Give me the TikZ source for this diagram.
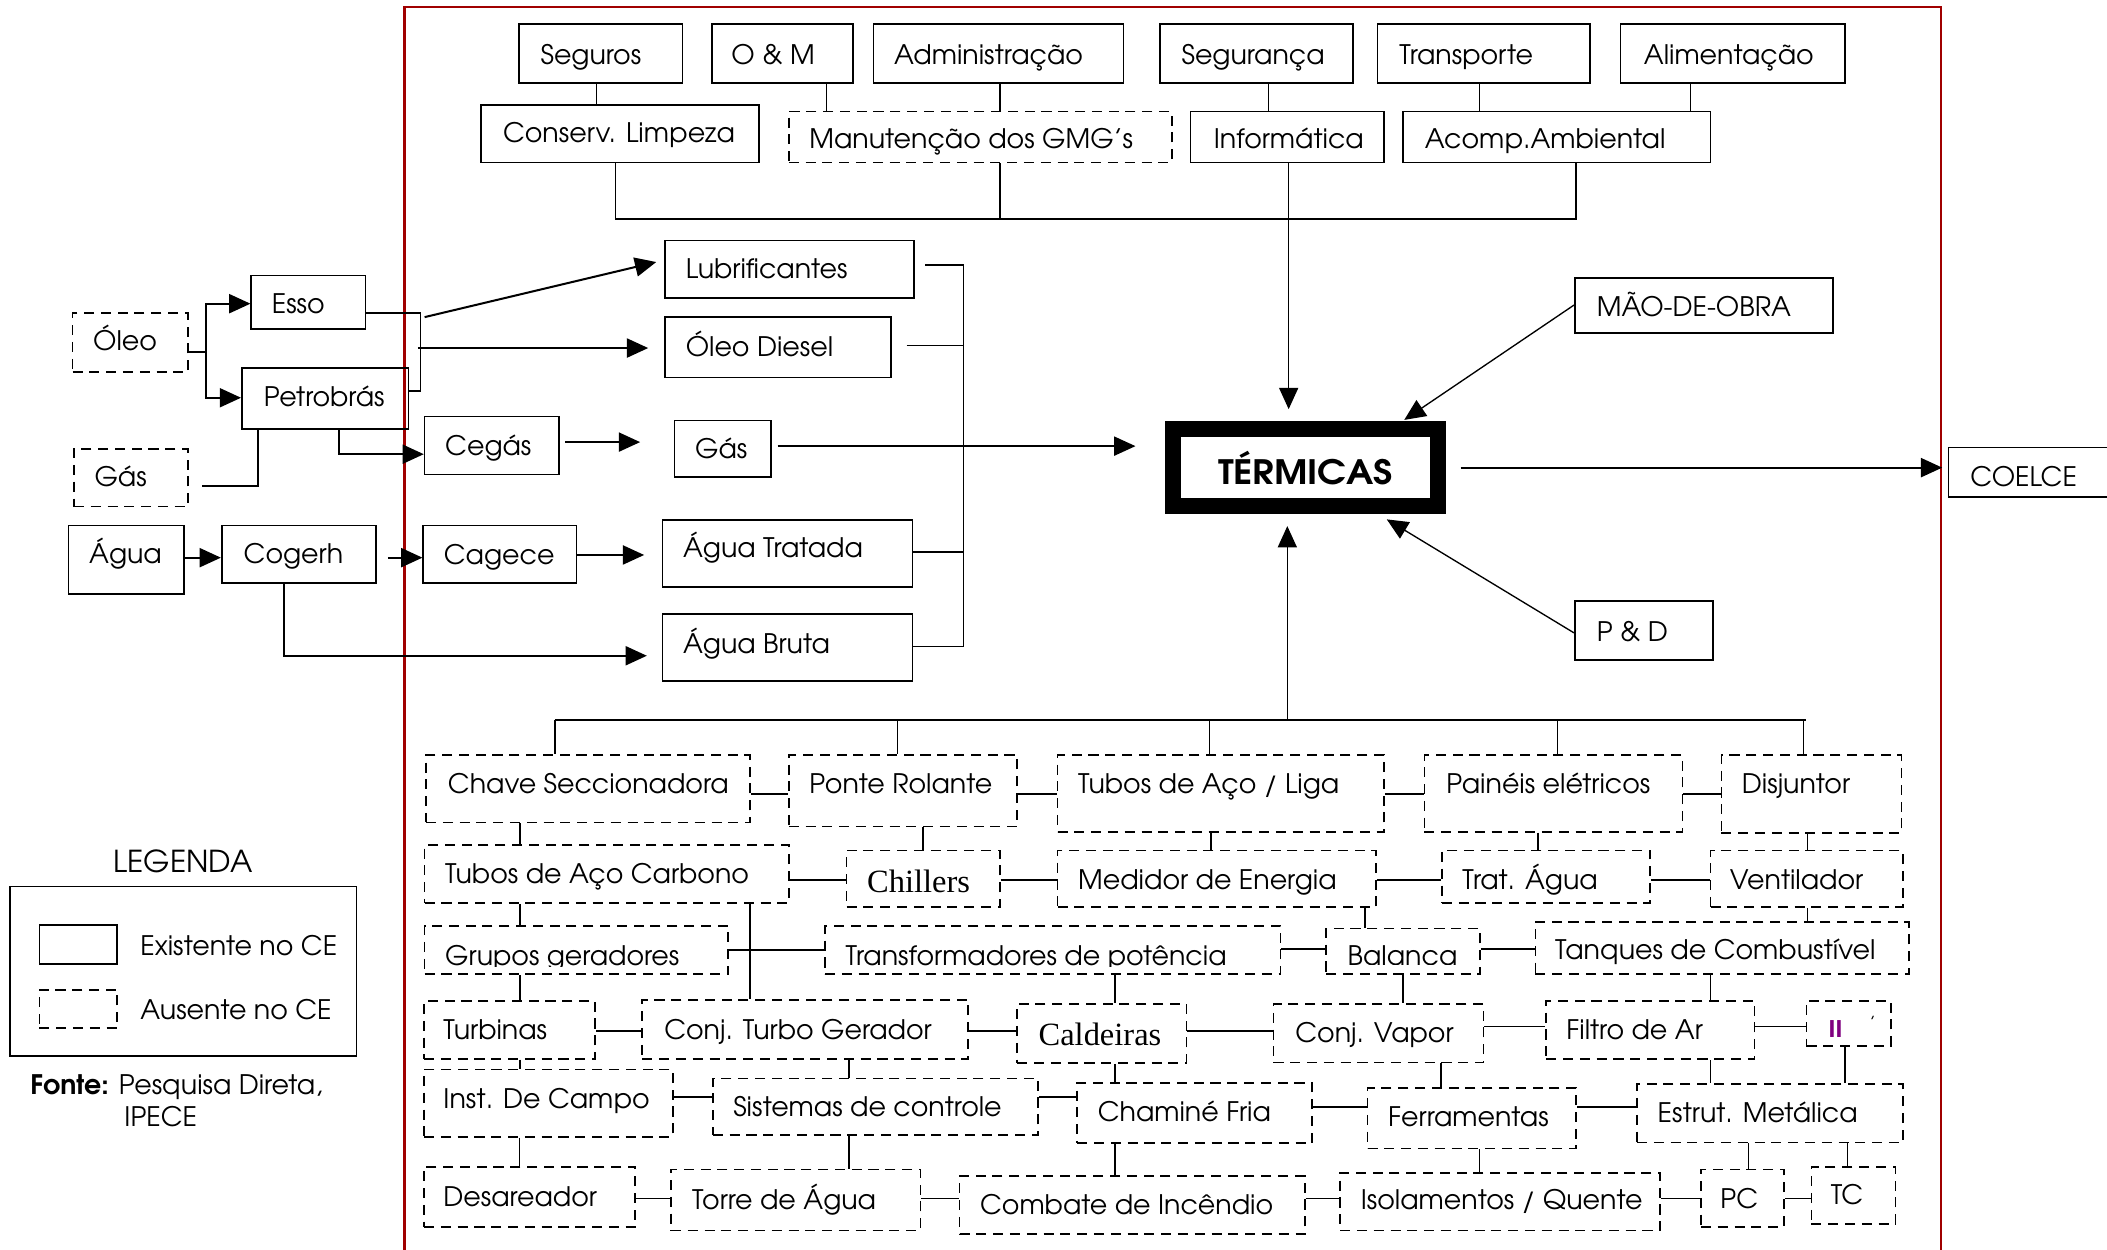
\documentclass[tikz,border=0pt]{standalone}
\usepackage{fontspec}
\setmainfont{TeX Gyre Adventor}
\newfontfamily\serifont{Liberation Serif}
\newfontfamily\heavyfont{Liberation Sans}
\usetikzlibrary{arrows.meta,fit,calc}
\definecolor{framered}{RGB}{160,0,0}
\definecolor{purp}{RGB}{128,0,128}
\newcommand\bx[4]{\node[#1, fit={(#3) (#4)}] (#2) {};}
\begin{document}
\begin{tikzpicture}[x=0.6pt,y=-0.6pt, font=\fontsize{12}{14}\selectfont,
  box/.style={draw, rectangle, line width=0.75pt, inner sep=0pt},
  dbox/.style={box, dash pattern=on 4.5pt off 3pt},
  lbl/.style={anchor=base west, inner sep=0pt, yshift=-4.3pt},
  slbl/.style={anchor=base west, inner sep=0pt, yshift=-4.8pt, font=\serifont\fontsize{14.5}{16}\selectfont},
  ln/.style={line width=0.75pt},
  tn/.style={line width=0.6pt},
  tk/.style={line width=0.9pt},
  arr/.style={-{Triangle[length=9.5pt,width=8.5pt]}},
]
\useasboundingbox (0,0) rectangle (1568,930);
% frame
\draw[framered, line width=1pt] (301,945) -- (301,5) -- (1444.6,5) -- (1444.6,945);

% ---------- top ----------
\bx{box}{seg}{386,18}{508,62}   \node[lbl] (tseg) at (402,41) {Seguros};
\bx{box}{om}{530,18}{635,62}    \node[lbl] (tom) at (544,41) {O \& M};
\bx{box}{adm}{650,18}{836,62}   \node[lbl] (tadm) at (665,41) {Administração};
\bx{box}{sgc}{863,18}{1007,62}  \node[lbl] (tsgc) at (879,41) {Segurança};
\bx{box}{trp}{1025,18}{1183,62} \node[lbl] (ttrp) at (1041,41) {Transporte};
\bx{box}{ali}{1206,18}{1373,62} \node[lbl] (tali) at (1223,41) {Alimentação};
\bx{box}{cons}{358,78}{565,121} \node[lbl] (tcons) at (374,99) {Conserv. Limpeza};
\bx{dbox}{man}{587,83}{872,121} \node[lbl] (tman) at (602,103) {Manutenção dos GMG’s};
\bx{box}{inf}{886,83}{1030,121} \node[lbl] (tinf) at (903,103) {Informática};
\bx{box}{acp}{1044,83}{1273,121} \node[lbl] (tacp) at (1060,103) {Acomp.Ambiental};

\draw[ln] (444,0 |- seg.south) -- (444,0 |- cons.north);
\draw[ln] (615,0 |- om.south) -- (615,0 |- man.north);
\draw[ln] (744,0 |- adm.south) -- (744,0 |- man.north);
\draw[ln] (944,0 |- sgc.south) -- (944,0 |- inf.north);
\draw[ln] (1101,0 |- trp.south) -- (1101,0 |- acp.north);
\draw[ln] (1258,0 |- ali.south) -- (1258,0 |- acp.north);
\draw[ln] (458,0 |- cons.south) -- (458,163) -- (1173,163) -- (1173,0 |- acp.south);
\draw[ln] (744,0 |- man.south) -- (744,163);

% ---------- centre ----------
\node[draw, line width=7.2pt, minimum width=118.2pt, minimum height=34.2pt, inner sep=0pt,
      font=\fontsize{15}{18}\selectfont\bfseries] (term) at (971.5,348) {\scalebox{1.1}[1]{TÉRMICAS}};
\bx{box}{mao}{1172,207}{1364,248} \node[lbl] (tmao) at (1188,228) {MÃO-DE-OBRA};
\bx{box}{pd}{1172,447}{1275,491}  \node[lbl] (tpd) at (1188,470) {P \& D};
\bx{box}{coelce}{1450,333}{1620,370} \node[lbl] (tcoelce) at (1466,355) {COELCE};

\draw[tn,arr] (959,0 |- inf.south) -- ($(959,0 |- term.north)+(0,-9)$);
\draw[tn,arr] (mao.west |- 0,227) -- ($(term.north east)+(-31,-1)$);
\draw[tn,arr] (pd.west |- 0,471) -- ($(term.south east)+(-44,4)$);
\draw[tn,arr] (958,536) -- ($(958,0 |- term.south)+(0,9)$);
\draw[tk,arr] ($(term.east |- 0,348)+(11,0)$) -- ($(coelce.west |- 0,348)+(-4,0)$);

% ---------- left inputs ----------
\bx{dbox}{oleo}{54,233}{140,277}  \node[lbl] (toleo) at (69,254) {Óleo};
\bx{box}{esso}{187,205}{272,245}  \node[lbl] (tesso) at (202,226) {Esso};
\bx{box}{petro}{180,274}{304,319} \node[lbl] (tpetro) at (196,295) {Petrobrás};
\bx{dbox}{gasl}{55,334}{140,377}  \node[lbl] (tgasl) at (70,355) {Gás};
\bx{box}{agua}{51,391}{137,442}   \node[lbl] (tagua) at (66,412) {Água};
\bx{box}{cog}{165,391}{280,434}   \node[lbl] (tcog) at (181,412) {Cogerh};
\bx{box}{cegas}{316,310}{416,353} \node[lbl] (tcegas) at (331,332) {Cegás};
\bx{box}{cagece}{315,391}{429,434} \node[lbl] (tcagece) at (330,413) {Cagece};
\bx{box}{lub}{495,179}{680,222}   \node[lbl] (tlub) at (510,200) {Lubrificantes};
\bx{box}{diesel}{495,236}{663,281} \node[lbl] (tdiesel) at (510,258) {Óleo Diesel};
\bx{box}{gasr}{502,313}{574,355}  \node[lbl] (tgasr) at (517,334) {Gás};
\bx{box}{agt}{493,387}{679,437}   \node[lbl] (tagt) at (508,408) {Água Tratada};
\bx{box}{agb}{493,457}{679,507}   \node[lbl] (tagb) at (508,479) {Água Bruta};

\draw[tk,arr] (oleo.east |- 0,262) -- (153,262) -- (153,226) -- (esso.west |- 0,226);
\draw[tk,arr] (153,262) -- (153,296) -- (petro.west |- 0,296);
\draw[ln] (esso.east |- 0,233) -- (313,233) -- (313,291) -- (petro.east |- 0,291);
\coordinate (brk) at (316,236);
\coordinate (brd) at (311,259);
\draw[tk,arr] (brk) -- ($(lub.west |- 0,195)+(-6,0)$);
\draw[tk,arr] (brd) -- ($(diesel.west |- 0,259)+(-12,0)$);
\draw[tk] ($(gasl.east |- 0,362)+(10,0)$) -- (192,362) -- (192,0 |- petro.south);
\draw[tk,arr] (252,0 |- petro.south) -- (252,338) -- (cegas.west |- 0,338);
\draw[tk,arr] ($(cegas.east |- 0,329)+(4,0)$) -- ($(gasr.west |- 0,329)+(-25,0)$);
\draw[tk,arr] (agua.east |- 0,415) -- (cog.west |- 0,415);
\draw[tk,arr] ($(cog.east |- 0,415)+(8,0)$) -- (cagece.west |- 0,415);
\draw[tk,arr] (cagece.east |- 0,413) -- ($(agt.west |- 0,413)+(-13,0)$);
\draw[tk,arr] (211,0 |- cog.south) -- (211,488) -- ($(agb.west |- 0,488)+(-11,0)$);
% collector bus
\draw[ln] ($(lub.east |- 0,197)+(8,0)$) -- (717,197) -- (717,481) -- (agb.east |- 0,481);
\draw[ln] ($(diesel.east |- 0,257)+(11,0)$) -- (717,257);
\draw[ln] (agt.east |- 0,411) -- (717,411);
\draw[ln,arr] ($(gasr.east |- 0,332)+(4,0)$) -- ($(term.west |- 0,332)+(-22,0)$);

% ---------- bottom grid ----------
\bx{dbox}{chave}{317,562}{558,612}   \node[lbl] (tchave) at (333,583) {Chave Seccionadora};
\bx{dbox}{ponte}{587,562}{757,615}   \node[lbl] (tponte) at (602,583) {Ponte Rolante};
\bx{dbox}{tliga}{787,562}{1030,619}  \node[lbl] (ttliga) at (802,583) {Tubos de Aço / Liga};
\bx{dbox}{paineis}{1060,562}{1252,619} \node[lbl] (tpaineis) at (1076,583) {Painéis elétricos};
\bx{dbox}{disj}{1281,562}{1415,620}  \node[lbl] (tdisj) at (1296,583) {Disjuntor};
\bx{dbox}{tac}{316,629}{587,672}     \node[lbl] (ttac) at (331,650) {Tubos de Aço Carbono};
\bx{dbox}{chil}{630,633}{744,675}    \node[slbl] (tchil) at (645,656) {Chillers};
\bx{dbox}{med}{787,633}{1024,675}    \node[lbl] (tmed) at (802,655) {Medidor de Energia};
\bx{dbox}{trat}{1073,633}{1228,672}  \node[lbl] (ttrat) at (1088,655) {Trat. Água};
\bx{dbox}{vent}{1273,633}{1416,675}  \node[lbl] (tvent) at (1287,655) {Ventilador};
\bx{dbox}{grup}{316,689}{542,725}
\begin{scope}\clip (316,689) rectangle (542,719);
\node[lbl] (tgrup) at (331,711) {Grupos geradores};\end{scope}
\bx{dbox}{transf}{614,689}{953,725}
\begin{scope}\clip (614,689) rectangle (953,719);
\node[lbl] (ttransf) at (629,711) {Transformadores de potência};\end{scope}
\bx{dbox}{bal}{987,691}{1101.5,725}
\begin{scope}\clip (987,691) rectangle (1101.5,718);
\node[lbl] (tbal) at (1002.6,711) {Balança};\end{scope}
\bx{dbox}{tanq}{1142.6,686}{1420.4,725} \node[lbl] (ttanq) at (1157,707) {Tanques de Combustível};
\bx{dbox}{turb}{315.6,745}{443,788}    \node[lbl] (tturb) at (329.7,766.5) {Turbinas};
\bx{dbox}{ctg}{478,744}{720.5,788}     \node[lbl] (tctg) at (494,766.5) {Conj. Turbo Gerador};
\bx{dbox}{cald}{757,747}{883,791}      \node[slbl] (tcald) at (772.6,770) {Caldeiras};
\bx{dbox}{cvap}{947.7,747.2}{1103.9,790.8} \node[lbl] (tcvap) at (963.6,769) {Conj. Vapor};
\bx{dbox}{filt}{1150.7,744.7}{1305.7,788.3} \node[lbl] (tfilt) at (1165.3,766.5) {Filtro de Ar};
\bx{dbox}{iibox}{1344.3,744.7}{1407,778.4}
\node[anchor=base west, inner sep=0pt, text=purp, font=\heavyfont\fontsize{11}{12}\selectfont\bfseries] (tii) at (1360.5,772) {II};
\node[anchor=base west, inner sep=0pt, font=\fontsize{8}{9}\selectfont] (ttick) at (1391,766) {'};
\bx{dbox}{inst}{315.6,795.8}{500.6,845.9} \node[lbl] (tinst) at (329.7,817.4) {Inst. De Campo};
\bx{dbox}{sist}{530.5,802.5}{772.6,844.6} \node[lbl] (tsist) at (545.4,823.6) {Sistemas de controle};
\bx{dbox}{cham}{801.7,805.7}{976.2,850.8} \node[lbl] (tcham) at (816.6,827.3) {Chaminé Fria};
\bx{dbox}{ferr}{1017.7,809.9}{1173,854.6} \node[lbl] (tferr) at (1032.7,831.5) {Ferramentas};
\bx{dbox}{estr}{1218.2,806.7}{1416.3,850.1} \node[lbl] (testr) at (1233.3,828.5) {Estrut. Metálica};
\bx{dbox}{desa}{315.6,868.2}{472.8,912.9} \node[lbl] (tdesa) at (329.7,890.5) {Desareador};
\bx{dbox}{torre}{499.3,870.2}{685,915.8} \node[lbl] (ttorre) at (514.7,893) {Torre de Água};
\bx{dbox}{comb}{714.1,875}{970.9,918.3} \node[lbl] (tcomb) at (729,896.7) {Combate de Incêndio};
\bx{dbox}{isol}{997.3,872.7}{1235.3,915.8} \node[lbl] (tisol) at (1012.4,893) {Isolamentos / Quente};
\bx{dbox}{pc}{1265.8,870.2}{1327.6,912.9} \node[lbl] (tpc) at (1280,891.8) {PC};
\bx{dbox}{tc}{1348,868.2}{1410.6,910.9} \node[lbl] (ttc) at (1362.2,889.3) {TC};

% bus to TÉRMICAS
\draw[ln] (413,536) -- (1344,536);
\draw[ln] (413,536) -- (413,0 |- chave.north);
\draw[ln] (668,536) -- (668,0 |- ponte.north);
\draw[ln] (900,536) -- (900,0 |- tliga.north);
\draw[ln] (1159,536) -- (1159,0 |- paineis.north);
\draw[ln] (1342,536) -- (1342,0 |- disj.north);

% horizontal links
\foreach \a/\b/\y in {chave/ponte/591, ponte/tliga/591, tliga/paineis/591, paineis/disj/591,
  tac/chil/655, chil/med/655, med/trat/655, trat/vent/655,
  grup/transf/707, transf/bal/706, bal/tanq/706,
  turb/ctg/767, ctg/cald/767, cald/cvap/767, cvap/filt/764, filt/iibox/764,
  inst/sist/816.6, sist/cham/816.6, cham/ferr/823.6, ferr/estr/823.6,
  desa/torre/891.8, torre/comb/891.8, comb/isol/891.8, isol/pc/891.8, pc/tc/891.8}
  {\draw[ln] (\a.east |- 0,\y) -- (\b.west |- 0,\y);}

% vertical links
\foreach \a/\b/\x in {chave/tac/387, tac/grup/387, grup/turb/387, turb/inst/387, inst/desa/386.5,
  ponte/chil/687, tliga/med/901, paineis/trat/1144.6, disj/vent/1345, vent/tanq/1345,
  med/bal/1015.6, tac/ctg/558, transf/cald/829.5, cald/cham/829.5, cham/comb/829.5,
  bal/cvap/1044, tanq/filt/1273, filt/estr/1273, ctg/sist/632, sist/torre/632,
  cvap/ferr/1072.6, iibox/estr/1372.8, ferr/isol/1101, estr/pc/1301.2, estr/tc/1374.8}
  {\draw[ln] (\x,0 |- \a.south) -- (\x,0 |- \b.north);}

% ---------- legend ----------
\node[anchor=base west, inner sep=0pt, font=\fontsize{13.5}{15}\selectfont] (tleg) at (84.3,649.5) {LEGENDA};
\bx{box}{leg}{7.4,659.8}{265.4,785.6}
\bx{box}{legs}{29.3,688.3}{87.3,717.4}
\bx{dbox}{legd}{29.3,736.7}{87.3,765.2}
\node[lbl] (tlegs) at (104.2,704) {Existente no CE};
\node[lbl] (tlegd) at (104.2,751.6) {Ausente no CE};
\node[lbl] (tfonte) at (22.3,807.4) {\textbf{Fonte:} Pesquisa Direta,};
\begin{scope}\clip (80,815) rectangle (200,838.5);
\node[lbl] (tipece) at (92.3,831.5) {IPECE};\end{scope}
\end{tikzpicture}
\end{document}
